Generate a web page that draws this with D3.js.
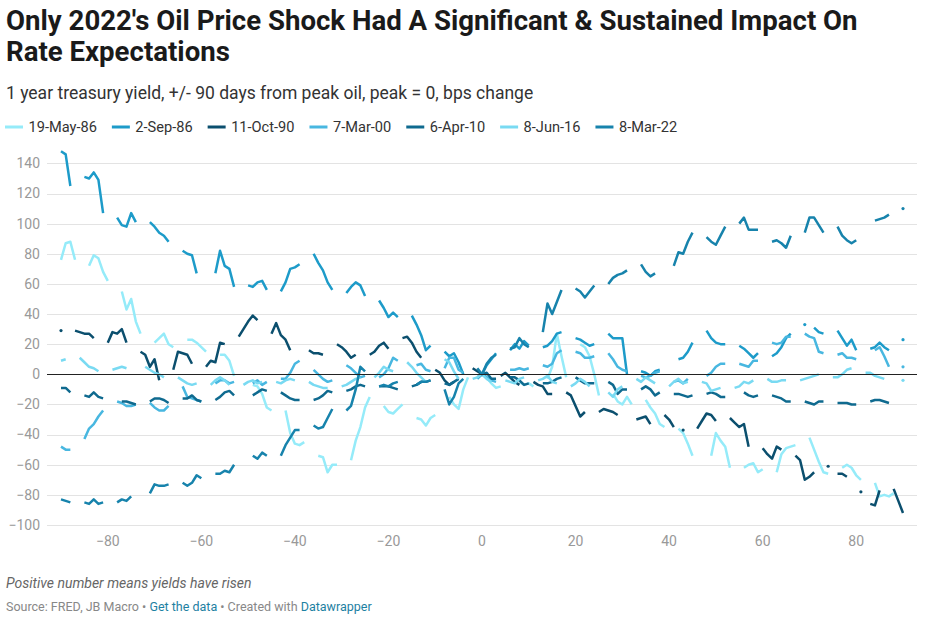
<!DOCTYPE html>
<html><head><meta charset="utf-8">
<script src="https://cdn.jsdelivr.net/npm/d3@7"></script>
<style>
body{margin:0;background:#fff;}
svg{display:block;font-family:Roboto,"Noto Sans",sans-serif;}
</style></head>
<body><svg id="chart" width="929" height="622"></svg>
<script>
// ---------- DATA ----------
const seriesNames = ["19-May-86","2-Sep-86","11-Oct-90","7-Mar-00","6-Apr-10","8-Jun-16","8-Mar-22"];
const seriesColors = ["#95ebf9","#1d9bc9","#0b4f6e","#48b7e0","#0f6a8f","#79daf2","#1783ac"];
const yTicks = [-100,-80,-60,-40,-20,0,20,40,60,80,100,120,140];
const xTicks = [-80,-60,-40,-20,0,20,40,60,80];

// values per trading day (Mon-Fri) from day -90 to day 90, null = market holiday
const may86 = [76,87,88,76, 72,79,77,68,62, 55,43,50,35,27, 21,24,27,20,18, 23,23,21,18,15,
  13,13,9,-1,null, -7,-8,-13,-22,-24, -24,-39,-46,-47,-45, -54,-55,-65,-60,-60, -57,-44,-35,-22,-15,
  -21,-25,-26,-23,-20, -29,-30,-34,-29,-27, -15,-20,-23,-10,-2, 0,-2,-6,-9,-8,
  null,-5,-7,-6,-8, -3,5,27,12,-2, 20,18,12,0,-14, -13,-18,-20,-15,-20, -17,-22,-26,-33,-35,
  -36,-39,-46,-54,null, -54,-39,-44,-48,-62, -62,-60,-59,-65,-63, -65,-53,-49,-48,-47,
  -42,-50,-58,-65,-66, -62,-60,-62,-67,-70, -72,-81,-80,-81,-79];
const sep86 = [148,146,125, 131,130,134,129,107, 104,99,98,107,101, 101,98,94,92,88, 82,80,79,67,null,
  67,82,72,70,58, 59,58,61,62,56, 55,61,70,71,73, 80,74,69,61,56, 54,58,61,59,52,
  49,44,38,41,38, 39,33,26,16,19, 15,12,14,8,0, null,0,6,10,14,
  16,20,17,22,19, 18,19,22,27,28, 24,23,21,19,20, 27,24,24,24,0, 2,1,-1,2,3,
  null,10,11,15,21, 29,24,21,20,20, 19,17,14,11,14, 12,14,18,24,27,
  33,null,31,28,27, 29,24,19,23,16, 17,18,21,18,16, 23];
const oct90 = [29, 29,28,27,27,24, 21,28,27,30,21, 15,13,5,10,-4, 3,15,14,13,7,
  5,9,8,21,20, 25,30,35,39,36, 27,34,26,23,16, null,16,14,14,13, 20,18,15,11,13,
  13,15,19,21,17, 24,25,21,15,11, 3,1,-4,-7,-5, null,4,2,0,-2,
  -1,1,-2,-5,-7, -5,-7,-8,-13,-13, -12,-14,-21,-28,-25, -25,-23,-24,-25,-27, null,-30,-29,-28,-33,
  -27,-30,-35,null,-37, -36,-31,-26,-27,-31, -29,-32,-35,-33,-48, -49,-53,-56,-48,-50,
  -54,-57,-70,-68,-65, -61,null,-66,-66,-68, -78,null,-86,-87,-77, -76,-84,-92];
const mar00 = [-48,-50,-50, -43,-36,-33,-28,-24, -18,-19,-21,-21,-20, -19,-22,-24,-24,-21, -8,-15,-16,-17,-18,
  -6,-4,-4,-6,-5, null,-6,-4,-7,-5, -3,-3,1,7,9, 3,0,-3,-5,-4, 6,4,1,-2,-1,
  -2,0,4,11,9, null,6,7,3,2, 4,11,11,3,1, -3,0,-2,-4,-5,
  3,3,4,3,4, 6,5,7,14,16, 15,14,11,11,12, 14,10,5,3,2, -1,-2,-1,1,2,
  -5,-4,-6,-3,null, -1,1,5,7,7, 7,6,5,9,9, 21,20,21,25,25,
  27,25,24,15,14, 13,14,11,11,10, null,16,18,12,5, 5];
const apr10 = [-9,-9,-12, -14,-15,-12,-15,-16, null,-18,-18,-19,-20, -18,-16,-16,-17,-19, -16,-16,-14,-17,-18,
  -17,-15,-12,-11,-14, null,-14,-12,-10,-11, -12,-14,-16,-17,-17, -17,-16,-14,-11,-12, -11,-10,-8,-7,-8,
  -8,-8,-8,-9,-10, -8,-7,-5,-5,-4, -6,-7,-5,-3,null, -2,0,1,-3,-3,
  -2,-2,-4,-7,-6, -6,-6,-5,-3,-2, -2,-4,-6,-6,-6, -5,-7,-13,-10,-10, -10,-8,-10,-14,-12,
  -13,-13,-14,-15,-14, -13,-12,-13,-15,-15, null,-12,-14,-15,-14, -14,-15,-16,-18,-18,
  -18,-19,-20,-18,-18, -19,-19,-19,-20,-20, -18,-17,-17,-18,-19, null];
const jun16 = [9,10, 11,8,5,4,2, 3,4,5,4,null, 5,3,1,0,-2, -2,-4,-6,-7,-6,
  -7,-4,-2,-4,-7, -7,-5,-4,-6,-5, -5,-6,-4,-3,-4, -5,-7,-8,-9,-9, -8,-7,-5,-3,-2,
  -2,1,5,3,2, 8,5,1,-2,-5, null,10,8,2,-3, -3,-2,0,-3,-5,
  -4,-5,-6,-3,-2, -4,-3,-1,-5,-6, -8,-6,-3,-5,-8, null,-12,-15,-10,-8, -3,-5,-2,-4,-6,
  -8,-5,-3,-6,-5, -5,-6,-11,-10,-9, -9,-8,-5,-6,-4, -3,-5,-5,-4,-4,
  -4,-3,-2,-1,0, -2,-2,0,3,4, 1,1,-1,-2,-3, null,-4];
const mar22 = [-83,-84,-85, -85,-86,-83,-86,-85, -85,-83,-84,-81,null, -79,-73,-74,-74,-73, -72,-74,-72,-67,-69,
  -66,-66,-64,-65,-60, null,-54,-56,-52,-54, -54,-47,-42,-37,-37, -34,-36,-35,-29,-23, -24,-21,-10,5,2,
  -8,-7,-8,-6,-5, null,-7,-5,-5,-4, -10,-20,-15,-6,-3, 4,0,7,11,13,
  17,18,24,20,18, 28,47,40,48,56, 57,55,51,55,59, 60,64,66,67,69, 73,68,65,67,null,
  72,81,80,88,94, 91,88,86,92,98, 100,104,96,96,96, 88,89,87,84,92,
  94,104,104,99,94, 98,92,89,87,89, null,102,103,104,106, 110];
const seriesValues = [may86, sep86, oct90, mar00, apr10, jun16, mar22];

// ---------- BUILD ----------
const months = {Jan:0,Feb:1,Mar:2,Apr:3,May:4,Jun:5,Jul:6,Aug:7,Sep:8,Oct:9,Nov:10,Dec:11};
function peakDow(name){
  const [d,m,y] = name.split("-");
  const yr = +y < 50 ? 2000 + +y : 1900 + +y;
  return new Date(yr, months[m], +d).getDay();
}
const series = seriesNames.map((name,i)=>{
  const dow0 = peakDow(name), vals = seriesValues[i];
  let k = 0; const pts = [];
  for(let d=-90; d<=90; d++){
    const dow = ((dow0 + d) % 7 + 7) % 7;
    if(dow===0 || dow===6){ pts.push({d, v:null}); continue; }
    const v = k < vals.length ? vals[k] : null; k++;
    pts.push({d, v});
  }
  return {name, color: seriesColors[i], pts};
});

// ---------- DRAW ----------
const svg = d3.select("#chart");
const x = d3.scaleLinear().domain([-90,90]).range([61,903]);
const y = d3.scaleLinear().domain([-100,150]).range([525,148.3]);
const fmt = v => v < 0 ? "\u2212" + Math.abs(v) : String(v);

// title
const title = svg.append("text").attr("x",6).attr("font-size",27.6).attr("font-weight",700).attr("fill","#1a1a1a");
title.append("tspan").attr("x",6).attr("y",30).text("Only 2022's Oil Price Shock Had A Significant & Sustained Impact On");
title.append("tspan").attr("x",6).attr("y",61).text("Rate Expectations");
svg.append("text").attr("x",6).attr("y",99).attr("font-size",17.5).attr("fill","#333")
  .text("1 year treasury yield, +/- 90 days from peak oil, peak = 0, bps change");

// legend
let lx = 5;
const lg = svg.append("g");
series.forEach(s=>{
  lg.append("line").attr("x1",lx).attr("x2",lx+18).attr("y1",127).attr("y2",127)
    .attr("stroke",s.color).attr("stroke-width",3);
  const t = lg.append("text").attr("x",lx+23.5).attr("y",132).attr("font-size",14.6).attr("fill","#333").text(s.name);
  lx += 23.5 + t.node().getComputedTextLength() + 15;
});

// grid
const grid = svg.append("g");
grid.selectAll("line").data(yTicks.filter(t=>t!==0)).join("line")
  .attr("x1",47).attr("x2",917).attr("y1",d=>Math.round(y(d))+0.5).attr("y2",d=>Math.round(y(d))+0.5)
  .attr("stroke","#e3e3e3").attr("stroke-width",1);
svg.append("g").selectAll("text").data(yTicks).join("text")
  .attr("x",40).attr("y",d=>y(d)).attr("dy","0.35em").attr("text-anchor","end")
  .attr("font-size",14).attr("fill","#999").text(fmt);
svg.append("g").selectAll("text").data(xTicks).join("text")
  .attr("x",d=>x(d)).attr("y",546).attr("text-anchor","middle")
  .attr("font-size",14).attr("fill","#999").text(fmt);

// lines
const line = d3.line().defined(p=>p.v!==null).x(p=>x(p.d)).y(p=>y(p.v));
const lines = svg.append("g");
series.forEach(s=>{
  lines.append("path").attr("d",line(s.pts)).attr("fill","none").attr("stroke",s.color)
    .attr("stroke-width",2.5).attr("stroke-linejoin","round").attr("stroke-linecap","butt");
  const iso = s.pts.filter((p,i,a)=>p.v!==null && (i===0||a[i-1].v===null) && (i===a.length-1||a[i+1].v===null));
  lines.selectAll(null).data(iso).join("circle").attr("cx",p=>x(p.d)).attr("cy",p=>y(p.v)).attr("r",1.6).attr("fill",s.color);
});
// zero line
svg.append("line").attr("x1",47).attr("x2",917).attr("y1",Math.round(y(0))+0.5).attr("y2",Math.round(y(0))+0.5)
  .attr("stroke","#222").attr("stroke-width",1);

// notes
svg.append("text").attr("x",6).attr("y",588).attr("font-size",14).attr("font-style","italic").attr("fill","#666")
  .text("Positive number means yields have risen");
const src = svg.append("text").attr("x",6).attr("y",611).attr("font-size",12.5).attr("fill","#888");
src.append("tspan").text("Source: FRED, JB Macro \u2022 ");
src.append("tspan").attr("fill","#1d81a2").text("Get the data");
src.append("tspan").text(" \u2022 Created with ");
src.append("tspan").attr("fill","#1d81a2").text("Datawrapper");
</script>
</body></html>
